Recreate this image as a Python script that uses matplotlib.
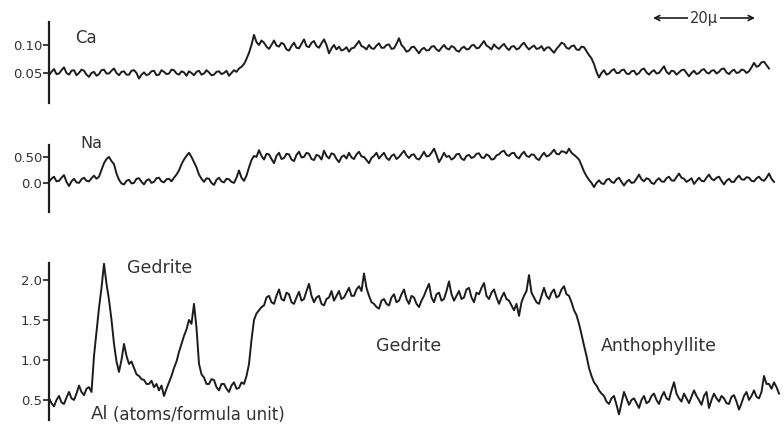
import matplotlib
matplotlib.use("Agg")
import matplotlib.pyplot as plt
import matplotlib.transforms as mtransforms
import numpy as np

# microprobe traces, one sample every half micron along the scan
STEP_UM = 0.5

ca_vals = [
    0.046, 0.052, 0.057, 0.048, 0.049, 0.055, 0.060, 0.050, 0.047, 0.054, 0.055, 0.046, 0.050, 0.056, 0.054, 0.047, 0.043, 0.050, 0.052, 0.045,
    0.048, 0.055, 0.056, 0.049, 0.049, 0.054, 0.058, 0.050, 0.046, 0.052, 0.053, 0.047, 0.047, 0.054, 0.055, 0.050, 0.040, 0.047, 0.051, 0.046,
    0.048, 0.053, 0.054, 0.046, 0.047, 0.055, 0.052, 0.048, 0.049, 0.056, 0.055, 0.049, 0.047, 0.053, 0.051, 0.045, 0.053, 0.050, 0.046, 0.052,
    0.054, 0.047, 0.049, 0.055, 0.051, 0.046, 0.047, 0.052, 0.053, 0.048, 0.050, 0.054, 0.045, 0.050, 0.055, 0.052, 0.058, 0.061, 0.066, 0.075,
    0.086, 0.100, 0.118, 0.105, 0.100, 0.108, 0.104, 0.097, 0.093, 0.100, 0.108, 0.099, 0.097, 0.104, 0.101, 0.092, 0.090, 0.098, 0.104, 0.095,
    0.094, 0.102, 0.110, 0.098, 0.096, 0.104, 0.107, 0.098, 0.095, 0.103, 0.110, 0.100, 0.085, 0.094, 0.100, 0.092, 0.097, 0.090, 0.092, 0.096,
    0.088, 0.094, 0.095, 0.101, 0.107, 0.098, 0.096, 0.092, 0.100, 0.094, 0.093, 0.099, 0.103, 0.095, 0.095, 0.100, 0.101, 0.093, 0.094, 0.102,
    0.112, 0.100, 0.095, 0.088, 0.090, 0.096, 0.097, 0.091, 0.085, 0.092, 0.095, 0.090, 0.091, 0.097, 0.098, 0.092, 0.089, 0.095, 0.100, 0.094,
    0.092, 0.098, 0.096, 0.090, 0.088, 0.094, 0.097, 0.092, 0.093, 0.099, 0.100, 0.094, 0.095, 0.101, 0.107, 0.099, 0.096, 0.092, 0.101, 0.096,
    0.093, 0.098, 0.102, 0.095, 0.091, 0.097, 0.098, 0.092, 0.094, 0.100, 0.104, 0.097, 0.092, 0.096, 0.099, 0.093, 0.094, 0.098, 0.090, 0.095,
    0.096, 0.091, 0.086, 0.093, 0.098, 0.104, 0.102, 0.095, 0.093, 0.098, 0.099, 0.092, 0.091, 0.097, 0.096, 0.089, 0.082, 0.076, 0.066, 0.052,
    0.042, 0.050, 0.055, 0.047, 0.049, 0.054, 0.057, 0.050, 0.050, 0.055, 0.056, 0.049, 0.048, 0.053, 0.054, 0.047, 0.050, 0.056, 0.058, 0.051,
    0.047, 0.052, 0.055, 0.049, 0.050, 0.056, 0.062, 0.052, 0.048, 0.054, 0.053, 0.047, 0.051, 0.055, 0.056, 0.050, 0.044, 0.050, 0.054, 0.048,
    0.050, 0.055, 0.057, 0.051, 0.049, 0.054, 0.055, 0.049, 0.052, 0.057, 0.058, 0.051, 0.048, 0.053, 0.056, 0.050, 0.051, 0.056, 0.055, 0.050,
    0.053, 0.060, 0.068, 0.061, 0.063, 0.069, 0.070, 0.064, 0.058,
]

na_vals = [
    0.02, 0.08, 0.12, 0.03, 0.04, 0.10, 0.15, 0.02, -0.06, 0.03, 0.08, 0.01, 0.00, 0.07, 0.10, 0.04, 0.03, 0.09, 0.14, 0.08,
    0.12, 0.25, 0.38, 0.46, 0.50, 0.42, 0.36, 0.18, 0.06, -0.01, -0.03, 0.04, 0.06, -0.01, 0.00, 0.08, 0.09, 0.02, -0.03, 0.05,
    0.07, 0.00, 0.02, 0.09, 0.10, 0.03, 0.01, 0.07, 0.08, 0.03, 0.10, 0.16, 0.24, 0.36, 0.45, 0.52, 0.58, 0.50, 0.40, 0.30,
    0.16, 0.08, 0.02, 0.09, 0.08, 0.00, -0.04, 0.06, 0.10, 0.03, 0.01, 0.08, 0.07, 0.02, 0.00, 0.10, 0.24, 0.10, 0.04, 0.14,
    0.30, 0.44, 0.52, 0.50, 0.63, 0.52, 0.45, 0.56, 0.55, 0.46, 0.38, 0.52, 0.58, 0.46, 0.48, 0.56, 0.55, 0.45, 0.42, 0.54,
    0.60, 0.49, 0.50, 0.58, 0.56, 0.46, 0.44, 0.54, 0.52, 0.45, 0.62, 0.52, 0.47, 0.57, 0.55, 0.46, 0.40, 0.50, 0.53, 0.47,
    0.58, 0.49, 0.46, 0.55, 0.60, 0.51, 0.50, 0.44, 0.38, 0.48, 0.52, 0.58, 0.47, 0.53, 0.58, 0.48, 0.44, 0.52, 0.55, 0.46,
    0.50, 0.56, 0.62, 0.53, 0.48, 0.54, 0.55, 0.47, 0.45, 0.52, 0.60, 0.51, 0.52, 0.58, 0.66, 0.54, 0.40, 0.48, 0.58, 0.50,
    0.52, 0.45, 0.48, 0.55, 0.56, 0.47, 0.44, 0.52, 0.54, 0.48, 0.50, 0.56, 0.57, 0.49, 0.48, 0.55, 0.52, 0.45, 0.46, 0.53,
    0.55, 0.60, 0.62, 0.54, 0.52, 0.57, 0.58, 0.50, 0.47, 0.55, 0.60, 0.52, 0.50, 0.55, 0.54, 0.47, 0.44, 0.52, 0.58, 0.51,
    0.53, 0.58, 0.64, 0.56, 0.55, 0.61, 0.60, 0.57, 0.66, 0.58, 0.54, 0.50, 0.45, 0.34, 0.22, 0.13, 0.06, 0.00, -0.08, 0.00,
    0.05, -0.01, -0.02, 0.06, 0.08, 0.02, 0.00, 0.07, 0.10, 0.02, -0.05, 0.02, 0.06, 0.00, 0.01, 0.08, 0.16, 0.07, 0.03, 0.09,
    0.07, 0.00, -0.02, 0.05, 0.09, 0.03, 0.02, 0.09, 0.12, 0.05, 0.04, 0.11, 0.18, 0.10, 0.08, 0.02, 0.05, 0.09, -0.02, 0.04,
    0.10, 0.04, 0.03, 0.10, 0.16, 0.08, 0.05, 0.10, 0.12, 0.04, -0.03, 0.04, 0.08, 0.02, 0.02, 0.09, 0.14, 0.07, 0.06, 0.11,
    0.10, 0.04, 0.03, 0.09, 0.12, 0.06, 0.04, 0.10, 0.18, 0.08, 0.02,
]

al_vals = [
    0.52, 0.46, 0.42, 0.50, 0.55, 0.47, 0.45, 0.53, 0.60, 0.52, 0.50, 0.58, 0.68, 0.60, 0.56, 0.64, 0.66, 0.60, 1.05, 1.35,
    1.65, 1.90, 2.20, 1.95, 1.75, 1.50, 1.20, 0.98, 0.85, 1.00, 1.20, 1.05, 0.95, 0.98, 0.90, 0.82, 0.80, 0.76, 0.75, 0.70,
    0.70, 0.74, 0.66, 0.70, 0.62, 0.68, 0.55, 0.64, 0.72, 0.80, 0.90, 0.98, 1.10, 1.20, 1.30, 1.38, 1.50, 1.45, 1.70, 1.40,
    0.95, 0.82, 0.78, 0.70, 0.70, 0.76, 0.75, 0.66, 0.62, 0.70, 0.70, 0.64, 0.60, 0.68, 0.72, 0.64, 0.65, 0.72, 0.70, 0.80,
    0.95, 1.25, 1.50, 1.58, 1.62, 1.66, 1.68, 1.78, 1.80, 1.72, 1.70, 1.80, 1.88, 1.76, 1.74, 1.84, 1.82, 1.72, 1.70, 1.78,
    1.85, 1.74, 1.76, 1.86, 1.95, 1.80, 1.72, 1.78, 1.80, 1.70, 1.68, 1.76, 1.78, 1.86, 1.74, 1.80, 1.86, 1.76, 1.78, 1.84,
    1.90, 1.80, 1.80, 1.88, 1.92, 1.86, 2.08, 1.90, 1.80, 1.72, 1.70, 1.66, 1.64, 1.74, 1.76, 1.70, 1.68, 1.78, 1.82, 1.72,
    1.74, 1.82, 1.88, 1.76, 1.70, 1.80, 1.78, 1.70, 1.66, 1.74, 1.80, 1.88, 1.95, 1.78, 1.72, 1.82, 1.84, 1.74, 1.76, 1.86,
    1.98, 1.82, 1.74, 1.80, 1.86, 1.76, 1.78, 1.88, 1.90, 1.78, 1.72, 1.84, 1.82, 1.90, 1.96, 1.80, 1.76, 1.84, 1.88, 1.78,
    1.70, 1.78, 1.84, 1.76, 1.74, 1.68, 1.62, 1.70, 1.55, 1.72, 1.80, 1.86, 2.06, 1.84, 1.78, 1.72, 1.70, 1.80, 1.90, 1.80,
    1.76, 1.84, 1.88, 1.78, 1.80, 1.88, 1.92, 1.82, 1.80, 1.72, 1.62, 1.56, 1.45, 1.32, 1.18, 1.05, 0.90, 0.80, 0.72, 0.68,
    0.62, 0.58, 0.55, 0.48, 0.45, 0.52, 0.55, 0.44, 0.32, 0.46, 0.60, 0.52, 0.44, 0.50, 0.52, 0.46, 0.40, 0.50, 0.55, 0.46,
    0.48, 0.55, 0.58, 0.50, 0.45, 0.54, 0.60, 0.52, 0.50, 0.62, 0.72, 0.58, 0.52, 0.48, 0.58, 0.52, 0.46, 0.54, 0.62, 0.55,
    0.50, 0.44, 0.55, 0.60, 0.40, 0.50, 0.58, 0.52, 0.48, 0.55, 0.52, 0.46, 0.45, 0.54, 0.56, 0.48, 0.38, 0.46, 0.55, 0.60,
    0.50, 0.55, 0.62, 0.54, 0.52, 0.60, 0.80, 0.70, 0.70, 0.64, 0.72, 0.66, 0.58,
]

ca_ticks = [0.05, 0.10]
ca_ticklabels = ["0.05", "0.10"]
na_ticks = [0.0, 0.5]
na_ticklabels = ["0.0", "0.50"]
al_ticks = [0.5, 1.0, 1.5, 2.0]
al_ticklabels = ["0.5", "1.0", "1.5", "2.0"]

W, H = 784, 428
INK = "#1c1c1c"
TXT = "#333333"


def px_axes(fig, top, bottom):
    # axes rectangle given in picture pixels
    return fig.add_axes([49 / W, 1 - bottom / H, 735 / W, (bottom - top) / H])


def style(ax, ticks, labels, ylim):
    ax.set_xlim(0, 147)
    ax.set_ylim(*ylim)
    for s in ("top", "right", "bottom"):
        ax.spines[s].set_visible(False)
    ax.spines["left"].set_linewidth(1.6)
    ax.spines["left"].set_color(INK)
    ax.set_xticks([])
    ax.set_yticks(ticks)
    ax.set_yticklabels(labels)
    ax.tick_params(axis="y", length=4, width=1.2, color=INK,
                   labelsize=9.5, labelcolor=TXT, pad=1)
    ax.patch.set_alpha(0)


fig = plt.figure(figsize=(W / 100, H / 100), dpi=100)

ax_ca = px_axes(fig, 22, 103)
ax_na = px_axes(fig, 145, 212)
ax_al = px_axes(fig, 263, 420)

for ax, vals in ((ax_ca, ca_vals), (ax_na, na_vals), (ax_al, al_vals)):
    x = np.arange(len(vals)) * STEP_UM
    ax.plot(x, vals, color=INK, lw=1.4, clip_on=False)

style(ax_ca, ca_ticks, ca_ticklabels, (-0.0036, 0.141))
style(ax_na, na_ticks, na_ticklabels, (-0.56, 0.73))
style(ax_al, al_ticks, al_ticklabels, (0.25, 2.21))


def ftext(x, y, s, **kw):
    kw.setdefault("color", TXT)
    kw.setdefault("va", "center")
    fig.text(x / W, 1 - y / H, s, **kw)


ftext(75, 38, "Ca", fontsize=12)
ftext(80, 143, "Na", fontsize=11.5)
ftext(160, 268, "Gedrite", fontsize=12.5, ha="center")
ftext(409, 346, "Gedrite", fontsize=12.5, ha="center")
ftext(659, 346, "Anthophyllite", fontsize=12.5, ha="center")
ftext(91, 414, "Al", fontsize=13)
ftext(113, 415, "(atoms/formula unit)", fontsize=12)

# 20 micron scale bar
blend = mtransforms.blended_transform_factory(ax_ca.transData, fig.transFigure)
ybar = 1 - 18 / H
ax_ca.annotate("", xy=(141.2, ybar), xytext=(120.8, ybar), xycoords=blend,
               textcoords=blend,
               arrowprops=dict(arrowstyle="<->", color=INK, lw=1.2,
                               mutation_scale=9, shrinkA=0, shrinkB=0))
ax_ca.text(131, ybar, "20\u03bc", transform=blend, ha="center", va="center",
           fontsize=10.5, color=TXT,
           bbox=dict(facecolor="white", edgecolor="none", pad=1))

fig.savefig("out.png", dpi=100)
